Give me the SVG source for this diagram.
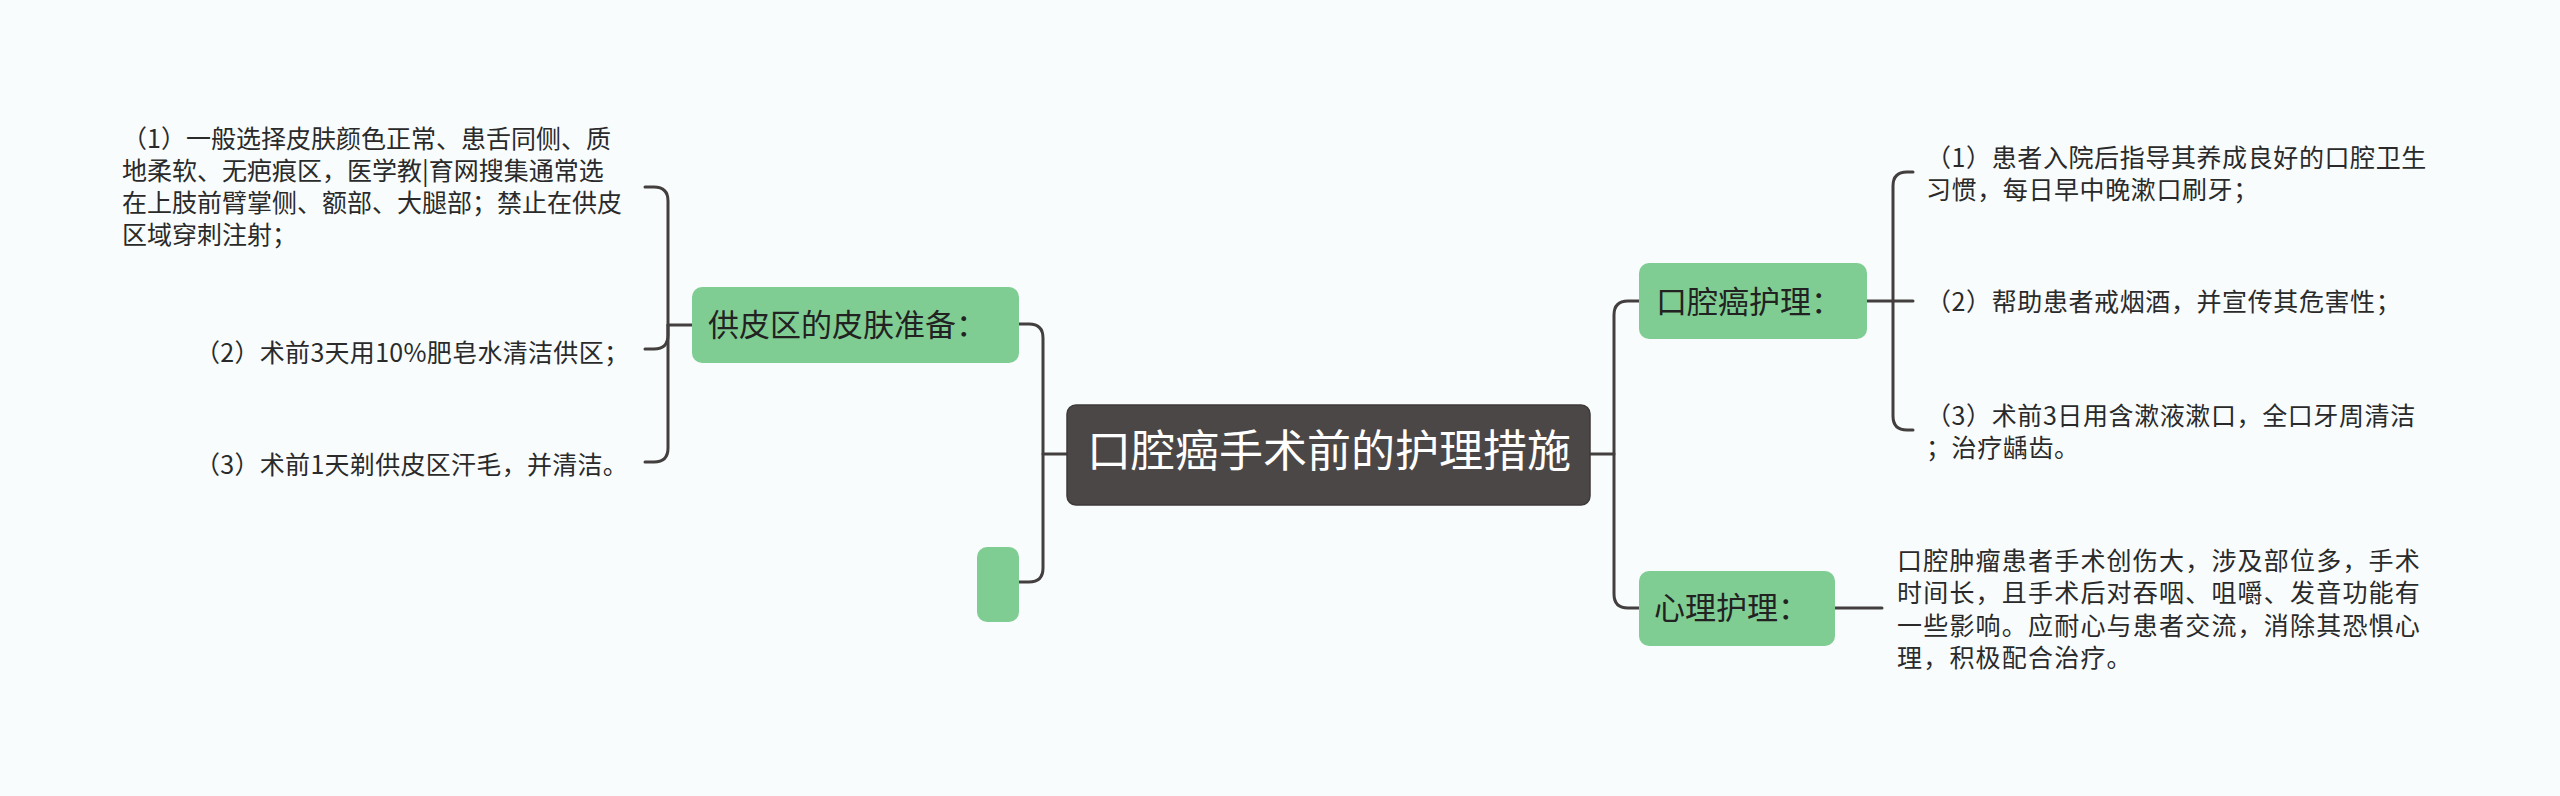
<svg xmlns="http://www.w3.org/2000/svg" width="2560" height="796" viewBox="0 0 2560 796">
<style>
.bg{fill:#f8fcfd}
.conn{fill:none;stroke:#433f3f;stroke-width:3;stroke-linecap:round;stroke-linejoin:round}
.sub{fill:#80cd93}
.root{fill:#4c4747;stroke:#3e3a3a;stroke-width:1.5}
.t{font-family:"Noto Sans CJK SC","Noto Sans",sans-serif;fill:#2a2a2a}
.body{font-size:25px}
.bodyL{font-size:25px;letter-spacing:0.3px}
.bodyR{font-size:25px;letter-spacing:0.6px}
.bodyP{font-size:25px;letter-spacing:1.2px}
.lbl{font-size:31px;fill:#222}
.title{font-size:44px;fill:#ffffff}
</style>
<rect class="bg" x="0" y="0" width="2560" height="796"/>
<g id="connectors">
<path class="conn" d="M1067,454 H1043 V338 Q1043,324 1029,324 H1019"/>
<path class="conn" d="M1043,454 V568 Q1043,582 1029,582 H1019"/>
<path class="conn" d="M692,325 H668 V201 Q668,187 654,187 H645"/>
<path class="conn" d="M668,325 V335 Q668,349 654,349 H645"/>
<path class="conn" d="M668,325 V448 Q668,462 654,462 H645"/>
<path class="conn" d="M1590,454 H1614 V315 Q1614,301 1628,301 H1639"/>
<path class="conn" d="M1614,454 V594 Q1614,608 1628,608 H1639"/>
<path class="conn" d="M1867,301 H1913"/>
<path class="conn" d="M1893,301 V186 Q1893,172 1907,172 H1913"/>
<path class="conn" d="M1893,301 V416 Q1893,430 1907,430 H1913"/>
<path class="conn" d="M1835,608 H1882"/>
</g>
<g id="root">
<rect class="root" x="1067" y="405" width="523" height="100" rx="9"/>
<text class="t title" x="1329" y="467" text-anchor="middle">口腔癌手术前的护理措施</text>
</g>
<g id="node-gongpiqu">
<rect class="sub" x="692" y="287" width="327" height="76" rx="10"/>
<text class="t lbl" x="708" y="336">供皮区的皮肤准备：</text>
</g>
<g id="node-empty">
<rect class="sub" x="977" y="547" width="42" height="75" rx="10"/>
</g>
<g id="node-kouqiang">
<rect class="sub" x="1639" y="263" width="228" height="76" rx="10"/>
<text class="t lbl" x="1656" y="313">口腔癌护理：</text>
</g>
<g id="node-xinli">
<rect class="sub" x="1639" y="571" width="196" height="75" rx="10"/>
<text class="t lbl" x="1654" y="619">心理护理：</text>
</g>
<g id="leaf-l1">
<text class="t body" x="122" y="148">（1）一般选择皮肤颜色正常、患舌同侧、质</text>
<text class="t body" x="122" y="180">地柔软、无疤痕区，医学教|育网搜集通常选</text>
<text class="t body" x="122" y="212">在上肢前臂掌侧、额部、大腿部；禁止在供皮</text>
<text class="t body" x="122" y="244">区域穿刺注射；</text>
</g>
<g id="leaf-l2">
<text class="t bodyL" x="195" y="362">（2）术前3天用10%肥皂水清洁供区；</text>
</g>
<g id="leaf-l3">
<text class="t bodyL" x="195" y="474">（3）术前1天剃供皮区汗毛，并清洁。</text>
</g>
<g id="leaf-r1">
<text class="t bodyR" x="1926" y="167">（1）患者入院后指导其养成良好的口腔卫生</text>
<text class="t bodyR" x="1926" y="199">习惯，每日早中晚漱口刷牙；</text>
</g>
<g id="leaf-r2">
<text class="t bodyR" x="1926" y="311">（2）帮助患者戒烟酒，并宣传其危害性；</text>
</g>
<g id="leaf-r3">
<text class="t bodyR" x="1926" y="425">（3）术前3日用含漱液漱口，全口牙周清洁</text>
<text class="t bodyR" x="1926" y="457">；治疗龋齿。</text>
</g>
<g id="leaf-r4">
<text class="t bodyP" x="1897" y="570">口腔肿瘤患者手术创伤大，涉及部位多，手术</text>
<text class="t bodyP" x="1897" y="602">时间长，且手术后对吞咽、咀嚼、发音功能有</text>
<text class="t bodyP" x="1897" y="635">一些影响。应耐心与患者交流，消除其恐惧心</text>
<text class="t bodyP" x="1897" y="667">理，积极配合治疗。</text>
</g>
</svg>
